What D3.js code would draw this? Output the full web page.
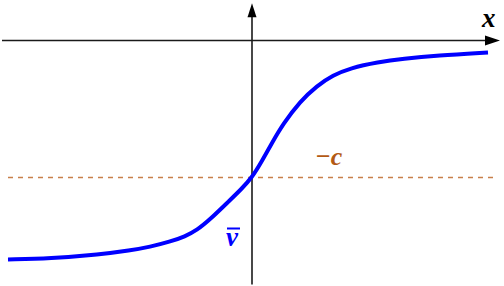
<!DOCTYPE html>
<html>
<head>
<meta charset="utf-8">
<script src="https://cdn.jsdelivr.net/npm/d3@7"></script>
<style>
  html, body { margin: 0; padding: 0; background: #fff; }
  svg { display: block; }
</style>
</head>
<body>
<div id="chart"></div>
<script>
// curve v-bar(x) (units: 40px each, origin where the axes cross)
var curveX = [-6.1, -5.05, -3.8, -3.05, -2.55, -2.05, -1.675, -1.375, -1.05, -0.55, -0.275, 0, 0.25, 0.5, 0.775, 1.2, 1.625, 2.025, 2.45, 3.15, 3.775, 4.625, 5.9];
var curveV = [-5.475, -5.45, -5.35, -5.25, -5.16, -5.03, -4.9, -4.74, -4.475, -3.99, -3.725, -3.425, -3.01, -2.56, -2.09, -1.525, -1.13, -0.87, -0.69, -0.54, -0.455, -0.375, -0.3];
var cLevel = -3.425;      // the dashed line, v = -c
var labels = { x: "x", c: "\u2212c", v: "v" };

function Chart() {
    var self = this;
    this.width = 504;
    this.height = 286;
    this.svg = d3.select("#chart").append("svg").attr("width", this.width).attr("height", this.height);

    // 40px per unit, origin at (252, 40.5)
    this.x = d3.scaleLinear().domain([-6.25, 6.25]).range([2, 502]);
    this.y = d3.scaleLinear().domain([1, -6.1]).range([0.5, 284.5]);

    this.draw = function () {
        var x = self.x, y = self.y, svg = self.svg;

        // dashed -c line
        svg.append("line")
            .attr("x1", x(-6.1)).attr("x2", x(6.05))
            .attr("y1", y(cLevel)).attr("y2", y(cLevel))
            .attr("stroke", "#c87f4a")
            .attr("stroke-width", 1.6)
            .attr("stroke-dasharray", "5,5");

        // axes
        svg.append("line")
            .attr("x1", x(-6.25)).attr("x2", x(5.9))
            .attr("y1", y(0)).attr("y2", y(0))
            .attr("stroke", "#1a1a1a").attr("stroke-width", 1.6);
        svg.append("line")
            .attr("x1", x(0)).attr("x2", x(0))
            .attr("y1", y(-6.1)).attr("y2", y(0.7))
            .attr("stroke", "#1a1a1a").attr("stroke-width", 1.6);

        // arrowheads
        var hx = x(6.2), hy = y(0);
        svg.append("path")
            .attr("d", "M" + hx + "," + hy + "L" + (hx - 15) + "," + (hy - 5) + "L" + (hx - 15) + "," + (hy + 5) + "Z")
            .attr("fill", "#000");
        var vx = x(0), vy = y(0.93);
        svg.append("path")
            .attr("d", "M" + vx + "," + vy + "L" + (vx - 4.5) + "," + (vy + 14) + "L" + (vx + 4.5) + "," + (vy + 14) + "Z")
            .attr("fill", "#000");

        // the curve
        var pts = curveX.map(function (d, i) { return [d, curveV[i]]; });
        var line = d3.line()
            .x(function (d) { return x(d[0]); })
            .y(function (d) { return y(d[1]); })
            .curve(d3.curveBasis);
        svg.append("path")
            .datum(pts)
            .attr("d", line)
            .attr("fill", "none")
            .attr("stroke", "#0000ff")
            .attr("stroke-width", 4);

        // labels
        var font = "Liberation Serif, Tinos, Times New Roman, DejaVu Serif, Noto Serif, serif";
        svg.append("text")
            .attr("x", 482).attr("y", 27)
            .attr("font-family", font).attr("font-size", 27)
            .attr("font-weight", "bold").attr("font-style", "italic")
            .attr("fill", "#000")
            .text(labels.x);
        svg.append("text")
            .attr("x", 315).attr("y", 165)
            .attr("font-family", font).attr("font-size", 26)
            .attr("font-weight", "bold").attr("font-style", "italic")
            .attr("fill", "#b35a14")
            .text(labels.c);
        svg.append("text")
            .attr("x", 226).attr("y", 246)
            .attr("font-family", font).attr("font-size", 27)
            .attr("font-weight", "bold").attr("font-style", "italic")
            .attr("fill", "#0000ff")
            .text(labels.v);
        svg.append("line")
            .attr("x1", 227).attr("x2", 240)
            .attr("y1", 228.5).attr("y2", 228.5)
            .attr("stroke", "#0000ff").attr("stroke-width", 2);
    };

    this.draw();
}

document.addEventListener("DOMContentLoaded", function () {
    new Chart();
});
</script>
</body>
</html>
